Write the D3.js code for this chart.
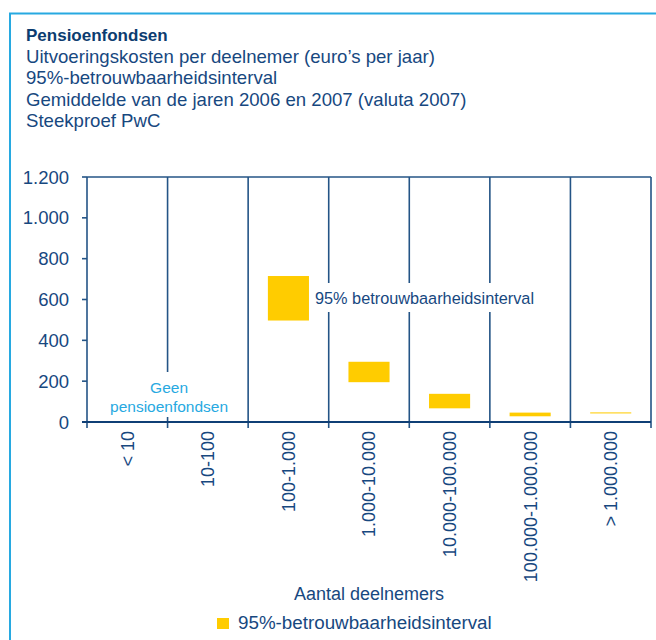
<!DOCTYPE html>
<html>
<head>
<meta charset="utf-8">
<script src="https://cdn.jsdelivr.net/npm/d3@7"></script>
<style>
  body { margin: 0; background: #fff; }
  svg text { font-family: "Liberation Sans", Arial, Helvetica, sans-serif; }
</style>
</head>
<body>
<div id="chart"></div>
<script>
// data
var categories = ["< 10", "10-100", "100-1.000", "1.000-10.000", "10.000-100.000", "100.000-1.000.000", "> 1.000.000"];
var lowValues  = [null, null, 497, 195, 67, 28, 42];
var highValues = [null, null, 715, 295, 138, 46, 47];
var yTicks = [0, 200, 400, 600, 800, 1000, 1200];
var titleLines = [
  "Uitvoeringskosten per deelnemer (euro\u2019s per jaar)",
  "95%-betrouwbaarheidsinterval",
  "Gemiddelde van de jaren 2006 en 2007 (valuta 2007)",
  "Steekproef PwC"
];

var navy = "#17487f", dark = "#0c3c70", lineCol = "#245486",
    yellow = "#ffcc00", cyan = "#27a9e1";

var width = 656, height = 640;

var svg = d3.select("#chart").append("svg")
  .attr("width", width)
  .attr("height", height);

// outer frame
svg.append("rect")
  .attr("x", 10).attr("y", 13.5)
  .attr("width", 700).attr("height", 700)
  .style("fill", "none")
  .style("stroke", cyan)
  .style("stroke-width", 2);

// titles
svg.append("text")
  .attr("x", 26).attr("y", 41)
  .attr("font-size", "17px")
  .attr("font-weight", "bold")
  .style("fill", dark)
  .text("Pensioenfondsen");

svg.selectAll(".subtitle").data(titleLines).enter().append("text")
  .attr("class", "subtitle")
  .attr("x", 26)
  .attr("y", function(d, i){ return 62.5 + i * 21.5; })
  .attr("font-size", "18.6px")
  .style("fill", navy)
  .text(function(d){ return d; });

var x = d3.scaleBand().domain(categories).range([87, 651]).padding(0);
var y = d3.scaleLinear().domain([0, 1200]).range([422, 177]);

var plot = svg.append("g");

// frame lines of the plot: top + band separators
plot.append("line")
  .attr("x1", x.range()[0]).attr("x2", x.range()[1])
  .attr("y1", y(1200)).attr("y2", y(1200))
  .style("stroke", lineCol).style("stroke-width", 1.6);

var bounds = categories.map(function(c){ return x(c); }).concat([x.range()[1]]);
plot.selectAll(".sep").data(bounds).enter().append("line")
  .attr("class", "sep")
  .attr("x1", function(d){ return d; }).attr("x2", function(d){ return d; })
  .attr("y1", y(1200)).attr("y2", y(0) + 6)
  .style("stroke", lineCol).style("stroke-width", 1.6);

// y axis ticks + labels
plot.selectAll(".ytick").data(yTicks).enter().append("line")
  .attr("class", "ytick")
  .attr("x1", 82).attr("x2", 87)
  .attr("y1", function(d){ return y(d); }).attr("y2", function(d){ return y(d); })
  .style("stroke", lineCol).style("stroke-width", 1.6);

var fmt = function(d){ return d3.format(",")(d).replace(/,/g, "."); };
plot.selectAll(".ylab").data(yTicks).enter().append("text")
  .attr("class", "ylab")
  .attr("x", 69)
  .attr("y", function(d){ return y(d); })
  .attr("dy", "0.36em")
  .attr("text-anchor", "end")
  .attr("font-size", "18.5px")
  .style("fill", navy)
  .text(fmt);

// baseline
plot.append("line")
  .attr("x1", 82).attr("x2", x.range()[1])
  .attr("y1", y(0)).attr("y2", y(0))
  .style("stroke", "#0f3f75").style("stroke-width", 2);

// bars (95% intervals)
var barW = x.bandwidth() * 0.51;
var bars = categories.map(function(c, i){ return {cat: c, lo: lowValues[i], hi: highValues[i]}; })
  .filter(function(d){ return d.lo != null; });

plot.selectAll(".bar").data(bars).enter().append("rect")
  .attr("class", "bar")
  .attr("x", function(d){ return x(d.cat) + (x.bandwidth() - barW) / 2; })
  .attr("y", function(d){ return y(d.hi); })
  .attr("width", barW)
  .attr("height", function(d){ return y(d.lo) - y(d.hi); })
  .style("fill", yellow);

// annotation: "Geen pensioenfondsen" (white block breaks the separator)
var gx = x(categories[1]) + 1.5;
plot.append("rect")
  .attr("x", gx - 62).attr("y", 372)
  .attr("width", 124).attr("height", 45)
  .style("fill", "#fff");
plot.append("text")
  .attr("x", gx).attr("y", 393)
  .attr("text-anchor", "middle")
  .attr("font-size", "15.5px")
  .style("fill", cyan)
  .text("Geen");
plot.append("text")
  .attr("x", gx).attr("y", 411.5)
  .attr("text-anchor", "middle")
  .attr("font-size", "15.5px")
  .style("fill", cyan)
  .text("pensioenfondsen");

// annotation: label next to the first interval
var ax = x(categories[2]) + (x.bandwidth() + barW) / 2 + 6;
plot.append("rect")
  .attr("x", ax - 2).attr("y", 283)
  .attr("width", 226).attr("height", 29)
  .style("fill", "#fff");
plot.append("text")
  .attr("x", ax).attr("y", 304)
  .attr("font-size", "16.3px")
  .style("fill", navy)
  .text("95% betrouwbaarheidsinterval");

// x labels, rotated
plot.selectAll(".xlab").data(categories).enter().append("text")
  .attr("class", "xlab")
  .attr("transform", function(d){ return "translate(" + (x(d) + x.bandwidth() / 2) + ",431) rotate(-90)"; })
  .attr("dy", "0.36em")
  .attr("text-anchor", "end")
  .attr("font-size", "18px")
  .style("fill", navy)
  .text(function(d){ return d; });

// axis title
svg.append("text")
  .attr("x", (x.range()[0] + x.range()[1]) / 2)
  .attr("y", 600)
  .attr("text-anchor", "middle")
  .attr("font-size", "18px")
  .style("fill", navy)
  .text("Aantal deelnemers");

// legend
var legend = svg.append("g").attr("transform", "translate(217,618)");
legend.append("rect")
  .attr("width", 12).attr("height", 11)
  .style("fill", yellow);
legend.append("text")
  .attr("x", 21).attr("y", 11)
  .attr("font-size", "18.8px")
  .style("fill", navy)
  .text("95%-betrouwbaarheidsinterval");
</script>
</body>
</html>
